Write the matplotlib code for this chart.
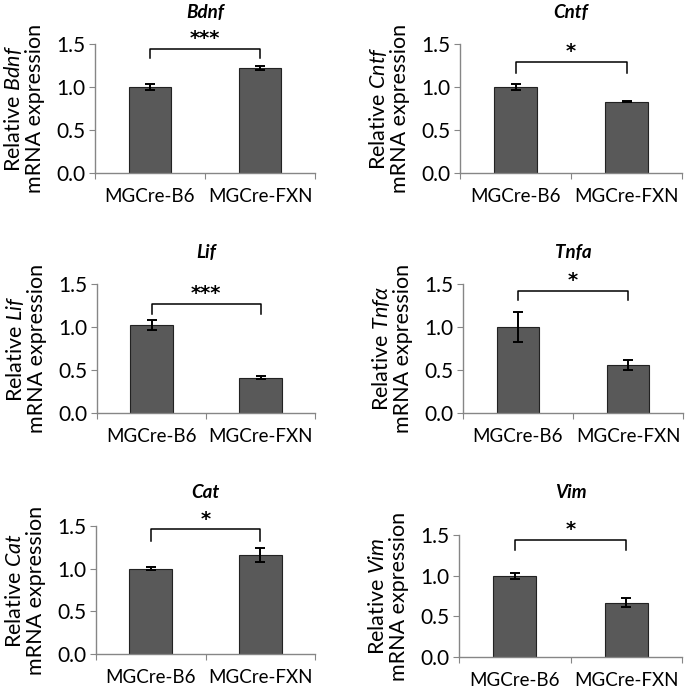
import matplotlib.pyplot as plt

plt.rcParams['font.family'] = ['Lato', 'DejaVu Sans']
plt.rcParams['mathtext.fontset'] = 'custom'
plt.rcParams['mathtext.rm'] = 'Lato'
plt.rcParams['mathtext.it'] = 'Lato:italic'
plt.rcParams['mathtext.bf'] = 'Lato:bold'

groups = ['MGCre-B6', 'MGCre-FXN']
genes = ['Bdnf', 'Cntf', 'Lif', 'Tnfa', 'Cat', 'Vim']
ylabel_genes = ['Bdnf', 'Cntf', 'Lif', r'Tnf\alpha', 'Cat', 'Vim']
b6_mean = [1.00, 1.00, 1.02, 1.00, 1.00, 1.00]
b6_err = [0.04, 0.04, 0.06, 0.17, 0.02, 0.035]
fxn_mean = [1.22, 0.83, 0.41, 0.56, 1.16, 0.67]
fxn_err = [0.02, 0.01, 0.02, 0.06, 0.08, 0.055]
stars = ['***', '*', '***', '*', '*', '*']
bracket_top = [1.44, 1.29, 1.27, 1.42, 1.46, 1.44]
bracket_leg = [1.34, 1.16, 1.15, 1.31, 1.33, 1.32]
yticks = [0.0, 0.5, 1.0, 1.5]

# axes placement in pixels: left, right, y of 0, y of 1.5, title y
W, H = 685, 688
boxes = [(95, 315, 173, 44, 12), (460, 682, 173, 44, 12),
         (97, 315, 413, 284, 252), (463, 683, 413, 284, 252),
         (96, 315, 654, 526, 492), (459, 682, 657, 535, 492)]

fig = plt.figure(figsize=(W / 100, H / 100), dpi=100)
grey = '#868686'

for i, gene in enumerate(genes):
    l, r, y0, y1, ty = boxes[i]
    ax = fig.add_axes([l / W, (H - y0) / H, (r - l) / W, (y0 - y1) / H])
    ax.bar([0, 1], [b6_mean[i], fxn_mean[i]], width=0.39, color='#595959',
           edgecolor='#222222', linewidth=0.8, zorder=2)
    ax.errorbar([0, 1], [b6_mean[i], fxn_mean[i]], yerr=[b6_err[i], fxn_err[i]],
                fmt='none', ecolor='black', elinewidth=1.4, capsize=3.5,
                capthick=1.4, zorder=3)
    ax.plot([0, 0, 1, 1], [bracket_leg[i], bracket_top[i], bracket_top[i], bracket_leg[i]],
            color='black', linewidth=1.1, clip_on=False)
    ax.text(0.5, bracket_top[i] + 0.01, stars[i], ha='center', va='bottom',
            fontsize=14, fontweight='bold', family='DejaVu Sans', clip_on=False)
    ax.set_xlim(-0.5, 1.5)
    ax.set_ylim(0, 1.5)
    ax.set_yticks(yticks)
    ax.set_yticklabels(['%.1f' % t for t in yticks], fontsize=15)
    ax.set_xticks([-0.5, 0.5, 1.5])
    ax.set_xticklabels([])
    ax.set_xticks([0, 1], minor=True)
    ax.set_xticklabels(groups, minor=True, fontsize=13.5)
    ax.tick_params(axis='x', which='minor', length=0, pad=11)
    ax.tick_params(axis='x', which='major', length=4, color=grey, direction='out')
    ax.tick_params(axis='y', length=4, color=grey, direction='out', pad=3)
    for s in ['top', 'right']:
        ax.spines[s].set_visible(False)
    for s in ['left', 'bottom']:
        ax.spines[s].set_color(grey)
        ax.spines[s].set_linewidth(1.0)
    ax.set_ylabel('Relative $\\it{' + ylabel_genes[i] + '}$\nmRNA expression',
                  fontsize=15.5, labelpad=8, linespacing=1.05)
    fig.text((l + r) / 2 / W, 1 - ty / H, gene, ha='center', va='center',
             fontsize=13.5, fontweight='bold', fontstyle='italic')

fig.savefig('out.png', dpi=100)
